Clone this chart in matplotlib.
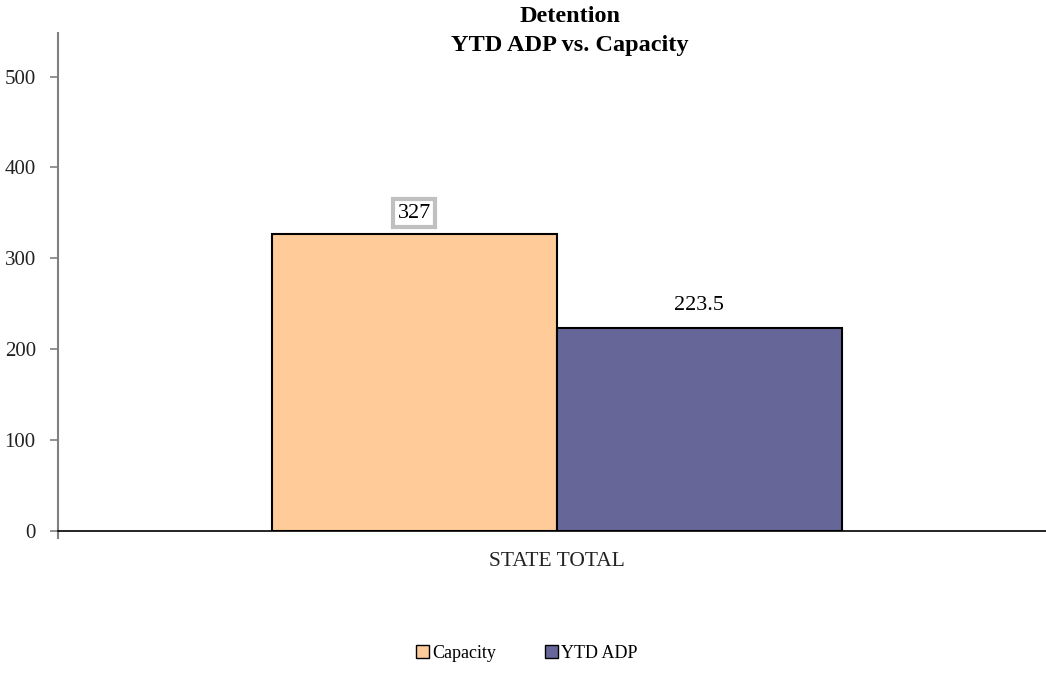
import matplotlib.pyplot as plt

categories = ["STATE TOTAL"]
series = ["Capacity", "YTD ADP"]
capacity = [327]
ytd_adp = [223.5]
colors = ["#FFCC99", "#666699"]

plt.rcParams['font.family'] = ['Liberation Serif', 'DejaVu Serif']

fig = plt.figure(figsize=(10.46, 6.90), dpi=100)
W, H = 1046, 690
ax = fig.add_axes([58 / W, 1 - 531 / H, 988 / W, (531 - 33) / H])

w = 0.5
x0 = 0
b1 = ax.bar(x0 - w / 2, capacity[0], w, color=colors[0], edgecolor="black", linewidth=1.5, label=series[0])
b2 = ax.bar(x0 + w / 2, ytd_adp[0], w, color=colors[1], edgecolor="black", linewidth=1.5, label=series[1])

ax.set_xlim(-0.875, 0.858)
ax.set_ylim(0, 548)
ax.set_yticks([0, 100, 200, 300, 400, 500])
ax.set_xticks([x0])
ax.set_xticklabels(categories, fontsize=15.5)
ax.set_xticks([-0.875], minor=True)

for s in ["top", "right"]:
    ax.spines[s].set_visible(False)
ax.spines["left"].set_color("#808080")
ax.spines["left"].set_linewidth(1.5)
ax.spines["bottom"].set_color("black")
ax.spines["bottom"].set_linewidth(1.2)
ax.tick_params(axis="y", direction="out", length=6, color="#808080", width=1.2,
               labelsize=15, labelcolor="#222222", pad=10)
ax.tick_params(axis="x", which="major", length=0, pad=15, labelcolor="#222222")
ax.tick_params(axis="x", which="minor", length=6, color="#808080", width=1.5)

ax.text(x0 - w / 2, capacity[0] + 12, "327", ha="center", va="bottom", fontsize=16,
        bbox=dict(boxstyle="square,pad=0.2", facecolor="white", edgecolor="#C0C0C0", linewidth=3))
ax.text(x0 + w / 2, ytd_adp[0] + 14, "223.5", ha="center", va="bottom", fontsize=16)

fig.text(570 / W, 1 - 31 / H, "Detention\nYTD ADP vs. Capacity", ha="center", va="center",
         fontsize=17.5, fontweight="bold", linespacing=1.45)

leg = fig.legend(handles=[b1, b2], labels=series, loc="center", bbox_to_anchor=(527 / W, 1 - 653 / H),
                 ncol=2, frameon=False, fontsize=13, handlelength=0.7, handleheight=0.7,
                 handletextpad=0.2, columnspacing=2.7)
for p in leg.get_patches():
    p.set_linewidth(1.0)

fig.savefig("out.png", dpi=100)
